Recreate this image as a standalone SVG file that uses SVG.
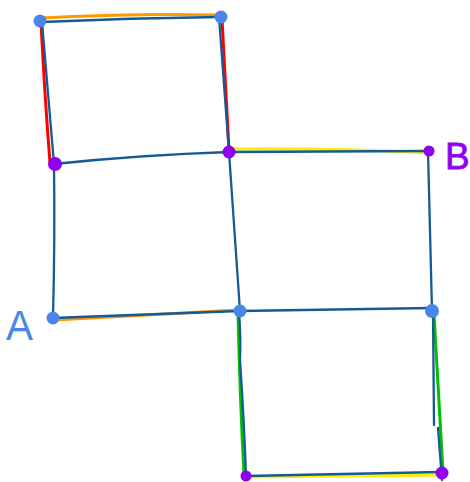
<svg xmlns="http://www.w3.org/2000/svg" width="470" height="482" viewBox="0 0 470 482">
<style>
.g{stroke:#155a94;stroke-width:2.3;fill:none;stroke-linecap:round}
.o{stroke:#ff9900;stroke-width:3;fill:none;stroke-linecap:round}
.r{stroke:#ff0000;stroke-width:3;fill:none;stroke-linecap:round}
.y{stroke:#ffee00;stroke-width:3;fill:none;stroke-linecap:round}
.gr{stroke:#00c000;stroke-width:3;fill:none;stroke-linecap:round}
.bd{fill:#4a86e8}
.pd{fill:#9000f0}
.lbl{font-family:"Liberation Sans",Arial,sans-serif}
</style>
<rect width="470" height="482" fill="#ffffff"/>
<g id="connectors">
<path class="o" d="M41,18 Q130,13 221,15"/>
<path class="o" d="M55,320 L238,310" stroke-width="2"/>
<path class="r" d="M41,23 Q45,100 50,163"/>
<path class="r" d="M222,19 L229,150"/>
<path class="y" d="M231,149 Q330,148 428,153"/>
<path class="y" d="M248,477 L441,475"/>
<path class="gr" d="M238,314 Q240,400 244,474"/>
<path class="gr" d="M434,314 L443,472"/>
<path class="g" d="M42,22 Q130,18 219,17"/>
<path class="g" d="M42,22 L54,164"/>
<path class="g" d="M219,17 L229,152"/>
<path class="g" d="M54,164 Q140,155 229,152"/>
<path class="g" d="M54,164 Q55,240 53,318"/>
<path class="g" d="M229,152 L426,151"/>
<path class="g" d="M229,152 L240,311"/>
<path class="g" d="M53,318 L239,311"/>
<path class="g" d="M428,151 L432,311"/>
<path class="g" d="M239,311 L432,308"/>
<path class="g" d="M239,311 Q241,340 240,360 Q244,420 246,475"/>
<path class="g" d="M433,311 L434,425"/>
<path class="g" d="M438,428 L442,480"/>
<path class="g" d="M246,476 Q340,474 440,472"/>
</g>
<g id="node-1"><circle class="bd" cx="40" cy="21" r="6.5"/></g>
<g id="node-2"><circle class="bd" cx="221" cy="17" r="6.5"/></g>
<g id="node-3"><circle class="pd" cx="55" cy="164" r="7"/></g>
<g id="node-4"><circle class="pd" cx="229" cy="152" r="6.5"/></g>
<g id="node-B"><circle class="pd" cx="429" cy="151" r="5.5"/><text class="lbl" x="445" y="169" font-size="37" fill="#9000f0" stroke="#9000f0" stroke-width="0.8">B</text></g>
<g id="node-A"><circle class="bd" cx="53" cy="318" r="6.5"/><text class="lbl" x="6" y="340" font-size="42" fill="#4a86e8" textLength="27" lengthAdjust="spacingAndGlyphs">A</text></g>
<g id="node-7"><circle class="bd" cx="240" cy="311" r="6.5"/></g>
<g id="node-8"><circle class="bd" cx="432" cy="311" r="7"/></g>
<g id="node-9"><circle class="pd" cx="246" cy="476" r="5.5"/></g>
<g id="node-10"><circle class="pd" cx="442" cy="473" r="6.5"/></g>
</svg>
